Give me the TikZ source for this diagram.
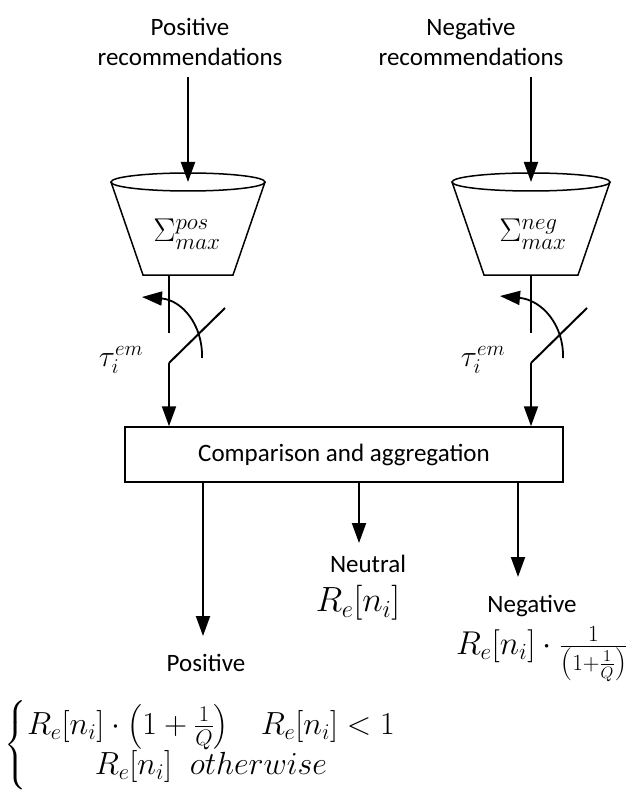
\documentclass[tikz,border=0pt]{standalone}
\usepackage{fix-cm}
\usepackage{amsmath}
\usepackage{fontspec}
\setmainfont{Carlito}
\usetikzlibrary{arrows.meta}
\begin{document}
\begin{tikzpicture}[x=1pt,y=-1pt,
  line width=2pt,
  lbl/.style={font=\fontsize{25}{30}\selectfont, align=center, inner sep=0pt},
  mth/.style={font=\fontsize{30}{36}\selectfont, inner sep=0pt},
  bigm/.style={font=\fontsize{35}{40}\selectfont, inner sep=0pt},
  arr/.style={-{Triangle[length=20pt,width=14pt]}},
  thin/.style={line width=1.5pt}]
\useasboundingbox (0,0) rectangle (633,794);

% inputs
\node[lbl] (posin) at (190,42) {Positive\\recommendations};
\node[lbl] (negin) at (471,42) {Negative\\recommendations};

% funnels
\coordinate (ptop) at (188,182);
\coordinate (ntop) at (531,182);
\draw[thin] (111,182) -- (143,275) -- (233,275) -- (265,182);
\draw[thin] (ptop) ellipse [x radius=77, y radius=9];
\draw[thin] (452,182) -- (484,275) -- (578,275) -- (610,182);
\draw[thin] (ntop) ellipse [x radius=79, y radius=9];
\node[font=\fontsize{33}{40}\selectfont, inner sep=0pt] (psum) at (187,234) {$\Sigma_{max}^{pos}$};
\node[font=\fontsize{33}{40}\selectfont, inner sep=0pt] (nsum) at (533,234) {$\Sigma_{max}^{neg}$};

\draw[arr] (188,77) -- (ptop);
\draw[arr] (531,77) -- (ntop);

% switches
\coordinate (pstemtop) at (169,275);
\coordinate (pstemend) at (169,333);
\coordinate (pelbow) at (169,363);
\coordinate (pswend) at (225,308);
\draw (pstemtop) -- (pstemend);
\draw (pswend) -- (pelbow);
\draw[arr, line width=1.8pt] (202,358) .. controls (203,325) and (182,300) .. (142,297);

\coordinate (nstemtop) at (531,275);
\coordinate (nstemend) at (531,333);
\coordinate (nelbow) at (531,363);
\coordinate (nswend) at (587,308);
\draw (nstemtop) -- (nstemend);
\draw (nswend) -- (nelbow);
\draw[arr, line width=1.8pt] (563,358) .. controls (564,325) and (542,300) .. (500,296);

\node[mth] (ptau) at (121,360) {$\tau_i^{em}$};
\node[mth] (ntau) at (483,360) {$\tau_i^{em}$};

% box
\node[draw, thin, minimum width=438pt, minimum height=55pt, inner sep=0pt, lbl] (box) at (344,454.5) {Comparison and aggregation};

\draw[arr] (pelbow) -- (pelbow |- box.north);
\draw[arr] (nelbow) -- (nelbow |- box.north);

% outputs
\coordinate (posx) at (203,636);
\coordinate (neux) at (359,543);
\coordinate (negx) at (518,577);
\draw[arr] (posx |- box.south) -- (posx);
\draw[arr] (neux |- box.south) -- (neux);
\draw[arr] (negx |- box.south) -- (negx);

\node[lbl] (neutral) at (368,564) {Neutral};
\node[bigm] (neuf) at (358,603) {$R_e[n_i]$};
\node[lbl] (negative) at (532,606) {Negative};
\node[font=\fontsize{33}{40}\selectfont, inner sep=0pt, anchor=west] (negf) at (455,654) {$R_e[n_i]\cdot\frac{1}{\left(1+\frac{1}{Q}\right)}$};
\node[lbl] (positive) at (206,663) {Positive};
\node[font=\fontsize{32}{38}\selectfont, inner sep=0pt, anchor=west] (posf) at (4,745) {$\left\{\begin{array}{@{}c@{}}R_e[n_i]\cdot\left(1+\frac{1}{Q}\right)\;\;\; R_e[n_i]<1\\[-2pt] R_e[n_i]\;\; otherwise\end{array}\right.$};
\end{tikzpicture}
\end{document}
